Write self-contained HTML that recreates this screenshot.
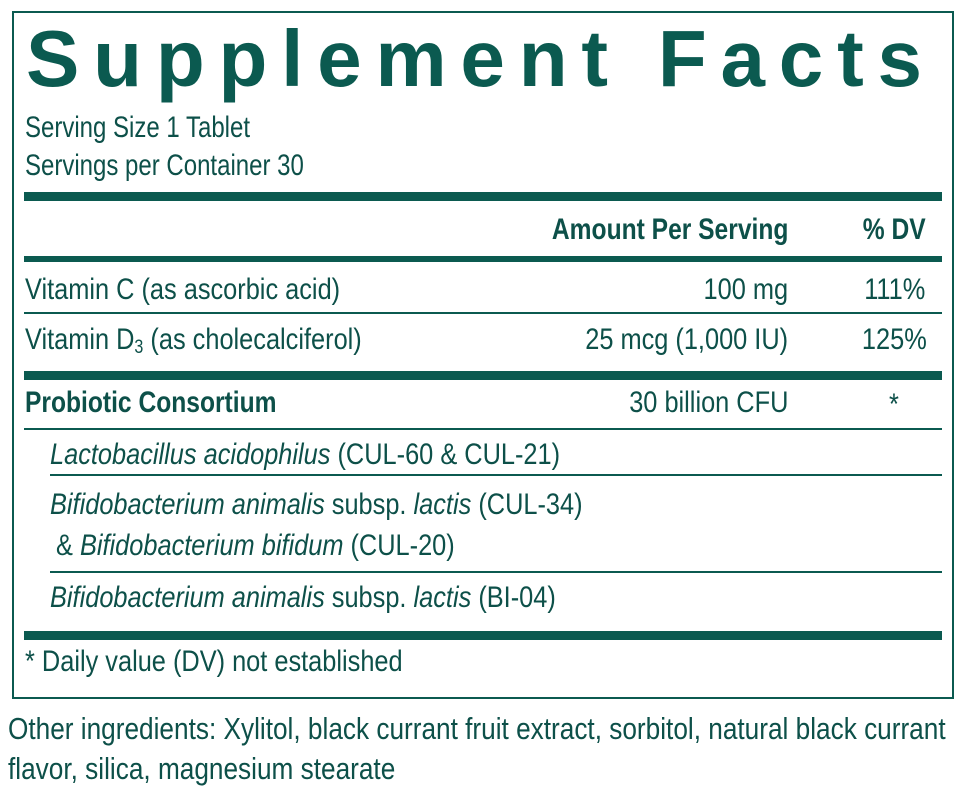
<!DOCTYPE html>
<html><head><meta charset="utf-8"><style>
body{margin:0;width:967px;height:795px;background:#fff;position:relative;overflow:hidden;font-family:"Liberation Sans",sans-serif;color:#0d5049}
.box{position:absolute;left:12px;top:11px;width:938px;height:684px;border:2px solid #0b5a50}
.t{position:absolute;white-space:nowrap;font-size:30px;line-height:1;transform:scaleX(0.845);transform-origin:left top}
.s{transform:scaleX(0.8)}
.r{transform-origin:right top}
.b{font-weight:bold;transform:scaleX(0.82)}
.bar{position:absolute;left:24px;width:918px;background:#0b5a50}
h1{position:absolute;left:26px;top:19px;margin:0;font-size:80px;font-weight:bold;letter-spacing:13.8px;color:#0b5a50;line-height:1}
i{font-style:italic}
</style></head><body>
<div class="box"></div>
<h1>Supplement Facts</h1>
<div class="t s" style="left:25px;top:113px">Serving Size 1 Tablet</div>
<div class="t s" style="left:25px;top:151px">Servings per Container 30</div>
<div class="bar" style="top:192px;height:9px"></div>
<div class="t b r" style="right:179px;top:215px">Amount Per Serving</div>
<div class="t b r" style="right:41px;top:215px">% DV</div>
<div class="bar" style="top:256px;height:6px"></div>
<div class="t" style="left:25px;top:275px">Vitamin C (as ascorbic acid)</div>
<div class="t r" style="right:179px;top:275px">100 mg</div>
<div class="t r" style="right:42px;top:275px">111%</div>
<div class="bar" style="top:312px;height:1.5px"></div>
<div class="t" style="left:25px;top:325px">Vitamin D<span style="font-size:19px;vertical-align:-4px">3</span> (as cholecalciferol)</div>
<div class="t r" style="right:179px;top:325px">25 mcg (1,000 IU)</div>
<div class="t r" style="right:40px;top:325px">125%</div>
<div class="bar" style="top:371px;height:9px"></div>
<div class="t b" style="left:25px;top:388px">Probiotic Consortium</div>
<div class="t r" style="right:179px;top:388px">30 billion CFU</div>
<div class="t" style="left:889px;top:390px">*</div>
<div class="bar" style="top:428px;height:1.5px"></div>
<div class="t" style="left:50px;top:440px"><i>Lactobacillus acidophilus</i> (CUL-60 &amp; CUL-21)</div>
<div class="bar" style="top:474px;height:1.5px;left:50px;width:892px"></div>
<div class="t" style="left:50px;top:490px"><i>Bifidobacterium animalis</i> subsp. <i>lactis</i> (CUL-34)</div>
<div class="t" style="left:56px;top:531px">&amp; <i>Bifidobacterium bifidum</i> (CUL-20)</div>
<div class="bar" style="top:571px;height:1.5px;left:50px;width:892px"></div>
<div class="t" style="left:50px;top:583px"><i>Bifidobacterium animalis</i> subsp. <i>lactis</i> (BI-04)</div>
<div class="bar" style="top:631px;height:9px"></div>
<div class="t" style="left:25px;top:647px">* Daily value (DV) not established</div>
<div class="t" style="left:8px;top:709px;font-size:31px;line-height:40px;white-space:normal;width:1125px">Other ingredients: Xylitol, black currant fruit extract, sorbitol, natural black currant flavor, silica, magnesium stearate</div>
</body></html>
